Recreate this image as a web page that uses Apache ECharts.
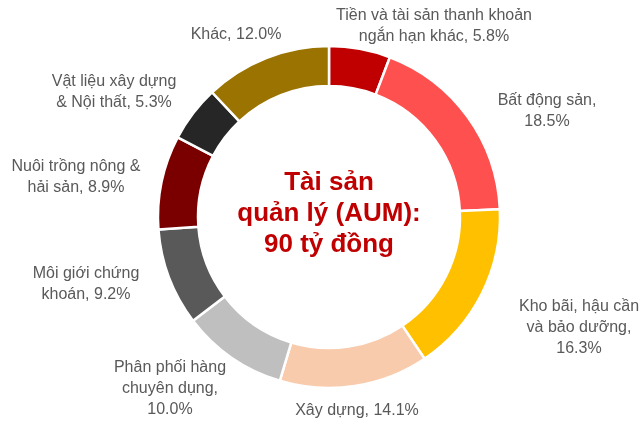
<!DOCTYPE html>
<html>
<head>
<meta charset="utf-8">
<script src="https://cdn.jsdelivr.net/npm/echarts@6/dist/echarts.min.js"></script>
<style>
  html, body { margin: 0; padding: 0; background: #ffffff; }
  #chart { width: 642px; height: 423px; }
</style>
</head>
<body>
<div id="chart"></div>
<script>
// ---- Data ----
const categories = [
  'Tiền và tài sản thanh khoản\nngắn hạn khác',
  'Bất động sản',
  'Kho bãi, hậu cần\nvà bảo dưỡng',
  'Xây dựng',
  'Phân phối hàng\nchuyên dụng',
  'Môi giới chứng\nkhoán',
  'Nuôi trồng nông &\nhải sản',
  'Vật liệu xây dựng\n& Nội thất',
  'Khác'
];
const shares = [5.8, 18.5, 16.3, 14.1, 10.0, 9.2, 8.9, 5.3, 12.0];
const valueOnNewLine = [false, true, true, false, true, false, false, false, false];
const centerTitle = ['Tài sản', 'quản lý (AUM):', '90 tỷ đồng'];

// ---- Styles / layout ----
const colors = ['#C00000', '#FF5050', '#FFC000', '#F8CBAD', '#BFBFBF', '#595959', '#7A0000', '#262626', '#9A7300'];
const cx = 329, cy = 217;
// label centres (text placement only)
const labelSpots = [
  [434, 26], [547, 111], [579, 328], [357, 411], [170, 389],
  [86, 284], [76, 177], [114, 92], [236, 35]
];

const chart = echarts.init(document.getElementById('chart'), null, { renderer: 'canvas' });
chart.setOption({
  backgroundColor: '#ffffff',
  animation: false,
  graphic: [{
    type: 'text',
    x: cx,
    y: 214,
    style: {
      text: centerTitle.join('\n'),
      textAlign: 'center',
      textVerticalAlign: 'middle',
      fill: '#C00000',
      font: 'bold 26px "Liberation Sans", Arial, sans-serif',
      lineHeight: 31
    }
  }],
  series: [{
    type: 'pie',
    center: [cx, cy],
    radius: [131, 171],
    startAngle: 90,
    clockwise: true,
    avoidLabelOverlap: false,
    itemStyle: { borderColor: '#ffffff', borderWidth: 2.5 },
    label: {
      show: true,
      position: 'outside',
      color: '#595959',
      fontFamily: '"Liberation Sans", Arial, sans-serif',
      fontSize: 16,
      lineHeight: 21,
      align: 'center',
      formatter: function (p) {
        const i = p.dataIndex;
        return p.name + ',' + (valueOnNewLine[i] ? '\n' : ' ') + shares[i].toFixed(1) + '%';
      }
    },
    labelLine: { show: false },
    labelLayout: function (p) {
      const s = labelSpots[p.dataIndex];
      return { x: s[0], y: s[1], align: 'center', verticalAlign: 'middle' };
    },
    emphasis: { disabled: true },
    data: categories.map((c, i) => ({ name: c, value: shares[i], itemStyle: { color: colors[i] } }))
  }]
});
</script>
</body>
</html>
